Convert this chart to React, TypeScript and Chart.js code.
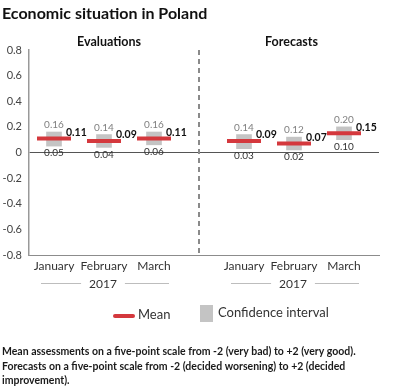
import React, { useEffect, useRef } from "react";
import { Chart, registerables } from "chart.js";

Chart.register(...registerables);

const TITLE = "Economic situation in Poland";
const GROUPS = ["Evaluations", "Forecasts"];
const YEAR = "2017";
const MONTHS = ["January", "February", "March", "January", "February", "March"];
// position of each category on the x axis (group 2 follows a gap)
const X_POS = [1, 2, 3, 4.8, 5.8, 6.8];
const DIVIDER_X = 3.9;
const MEAN = [0.11, 0.09, 0.11, 0.09, 0.07, 0.15];
const CI_LOW = [0.05, 0.04, 0.06, 0.03, 0.02, 0.1];
const CI_HIGH = [0.16, 0.14, 0.16, 0.14, 0.12, 0.2];
const Y_TICKS = [-0.8, -0.6, -0.4, -0.2, 0, 0.2, 0.4, 0.6, 0.8];
const LEGEND = ["Mean", "Confidence interval"];
const FOOTNOTE = [
  "Mean assessments on a five-point scale from -2 (very bad) to +2 (very good).",
  "Forecasts on a five-point scale from -2 (decided worsening) to +2 (decided",
  "improvement).",
];

const RED = "#d4383d";
const GREY_BOX = "#c4c4c4";
const FONT = "Lato, 'Noto Sans', sans-serif";

const fmt = (v: number) => v.toFixed(2);

const overlay = {
  id: "overlay",
  afterDatasetsDraw(chart: any) {
    const { ctx, chartArea } = chart;
    const xs = chart.scales.x;
    const ys = chart.scales.y;
    ctx.save();
    // dashed divider
    ctx.strokeStyle = "#8a8a8a";
    ctx.lineWidth = 2;
    ctx.setLineDash([5, 4]);
    const dx = Math.round(xs.getPixelForValue(DIVIDER_X));
    ctx.beginPath();
    ctx.moveTo(dx, chartArea.top);
    ctx.lineTo(dx, chartArea.bottom);
    ctx.stroke();
    ctx.setLineDash([]);

    // value labels
    X_POS.forEach((xv, i) => {
      const px = xs.getPixelForValue(xv);
      const top = ys.getPixelForValue(CI_HIGH[i]);
      const bot = ys.getPixelForValue(CI_LOW[i]);
      const my = ys.getPixelForValue(MEAN[i]);
      ctx.font = `10px ${FONT}`;
      ctx.textAlign = "center";
      ctx.fillStyle = "#808080";
      ctx.textBaseline = "middle";
      ctx.fillText(fmt(CI_HIGH[i]), px, top - 7);
      ctx.fillStyle = "#333";
      ctx.fillText(fmt(CI_LOW[i]), px, bot + 7);
      ctx.font = `bold 10.5px ${FONT}`;
      ctx.fillStyle = "#111";
      ctx.textAlign = "left";
      ctx.fillText(fmt(MEAN[i]), px + 12, my - 6);
    });
    ctx.restore();
  },
  afterDraw(chart: any) {
    const { ctx, chartArea } = chart;
    const xs = chart.scales.x;
    ctx.save();
    // title
    ctx.fillStyle = "#111";
    ctx.font = `bold 16px ${FONT}`;
    ctx.textAlign = "left";
    ctx.textBaseline = "alphabetic";
    ctx.fillText(TITLE, 2, 19);

    // group headers
    const mid = (chartArea.left + xs.getPixelForValue(DIVIDER_X)) / 2;
    const mid2 = (chartArea.right + xs.getPixelForValue(DIVIDER_X)) / 2;
    const headerX = [
      (mid + xs.getPixelForValue(X_POS[1])) / 2,
      (mid2 + xs.getPixelForValue(X_POS[4])) / 2,
    ];
    ctx.font = `bold 12.5px ${FONT}`;
    ctx.textAlign = "center";
    GROUPS.forEach((g, gi) => ctx.fillText(g, headerX[gi], 45.5));

    // year rows
    ctx.font = `12px ${FONT}`;
    ctx.textBaseline = "middle";
    [0, 3].forEach((s) => {
      const x0 = xs.getPixelForValue(X_POS[s]) - 13;
      const x1 = xs.getPixelForValue(X_POS[s + 2]) + 15;
      const xc = xs.getPixelForValue(X_POS[s + 1]) - 1;
      const w = ctx.measureText(YEAR).width;
      ctx.fillStyle = "#333";
      ctx.fillText(YEAR, xc, 284);
      ctx.strokeStyle = "#bdbdbd";
      ctx.lineWidth = 1;
      ctx.beginPath();
      ctx.moveTo(x0, 283.5);
      ctx.lineTo(xc - w / 2 - 8, 283.5);
      ctx.moveTo(xc + w / 2 + 8, 283.5);
      ctx.lineTo(x1, 283.5);
      ctx.stroke();
    });

    // legend
    ctx.strokeStyle = RED;
    ctx.lineWidth = 4;
    ctx.lineCap = "round";
    ctx.beginPath();
    ctx.moveTo(115, 316);
    ctx.lineTo(133, 316);
    ctx.stroke();
    ctx.lineCap = "butt";
    ctx.fillStyle = "#333";
    ctx.font = `13px ${FONT}`;
    ctx.textAlign = "left";
    ctx.fillText(LEGEND[0], 138, 315);
    ctx.fillStyle = GREY_BOX;
    ctx.fillRect(200, 305, 13, 17);
    ctx.fillStyle = "#333";
    ctx.fillText(LEGEND[1], 218, 313);

    // footnote
    ctx.fillStyle = "#1a1a1a";
    ctx.font = `bold 10.5px ${FONT}`;
    FOOTNOTE.forEach((line, i) => ctx.fillText(line, 2, 352 + i * 14.5));
    ctx.restore();
  },
};

export default function App() {
  const ref = useRef<HTMLCanvasElement>(null);
  useEffect(() => {
    document.body.style.margin = "0";
    const canvas = ref.current!;
    const chart = new Chart(canvas, {
      type: "bar",
      data: {
        datasets: [
          {
            type: "scatter",
            label: LEGEND[0],
            data: X_POS.map((x, i) => ({ x, y: MEAN[i] })),
            pointStyle: "line",
            pointRadius: 17,
            pointHoverRadius: 17,
            borderWidth: 4,
            pointBorderWidth: 4,
            borderColor: RED,
            backgroundColor: RED,
            order: 0,
          } as any,
          {
            type: "bar",
            label: LEGEND[1],
            data: X_POS.map((x, i) => ({ x, y: [CI_LOW[i], CI_HIGH[i]] })) as any,
            backgroundColor: GREY_BOX,
            borderWidth: 0,
            barThickness: 15,
            order: 1,
          },
        ],
      },
      options: {
        responsive: false,
        animation: false,
        devicePixelRatio: 1,
        layout: { padding: { top: 50, right: 6, left: 0, bottom: 0 } },
        plugins: { legend: { display: false }, tooltip: { enabled: false }, title: { display: false } },
        scales: {
          x: {
            type: "linear",
            min: 0.5,
            max: 7.5,
            offset: false,
            grid: { display: false, offset: false },
            border: { display: true, color: "#8c8c8c", width: 1 },
            afterBuildTicks: (s: any) => {
              s.ticks = X_POS.map((v) => ({ value: v }));
            },
            afterFit: (s: any) => {
              s.height = 135;
            },
            ticks: {
              autoSkip: false,
              maxRotation: 0,
              padding: -4,
              color: "#333",
              font: { family: FONT, size: 12 },
              callback: (_v: any, i: number) => MONTHS[i],
            },
          },
          y: {
            min: -0.8,
            max: 0.8,
            afterBuildTicks: (s: any) => {
              s.ticks = Y_TICKS.map((v) => ({ value: v }));
            },
            afterFit: (s: any) => {
              s.width = 29;
            },
            grid: {
              drawTicks: false,
              color: (c: any) => (Math.abs(c.tick?.value ?? 1) < 1e-9 ? "#555" : "rgba(0,0,0,0)"),
            },
            border: { display: true, color: "#999", width: 1.5 },
            ticks: {
              padding: 7,
              color: "#444",
              font: { family: FONT, size: 11 },
            },
          },
        },
      },
      plugins: [overlay],
    });
    return () => chart.destroy();
  }, []);
  return <canvas ref={ref} width={400} height={390} style={{ display: "block" }} />;
}
